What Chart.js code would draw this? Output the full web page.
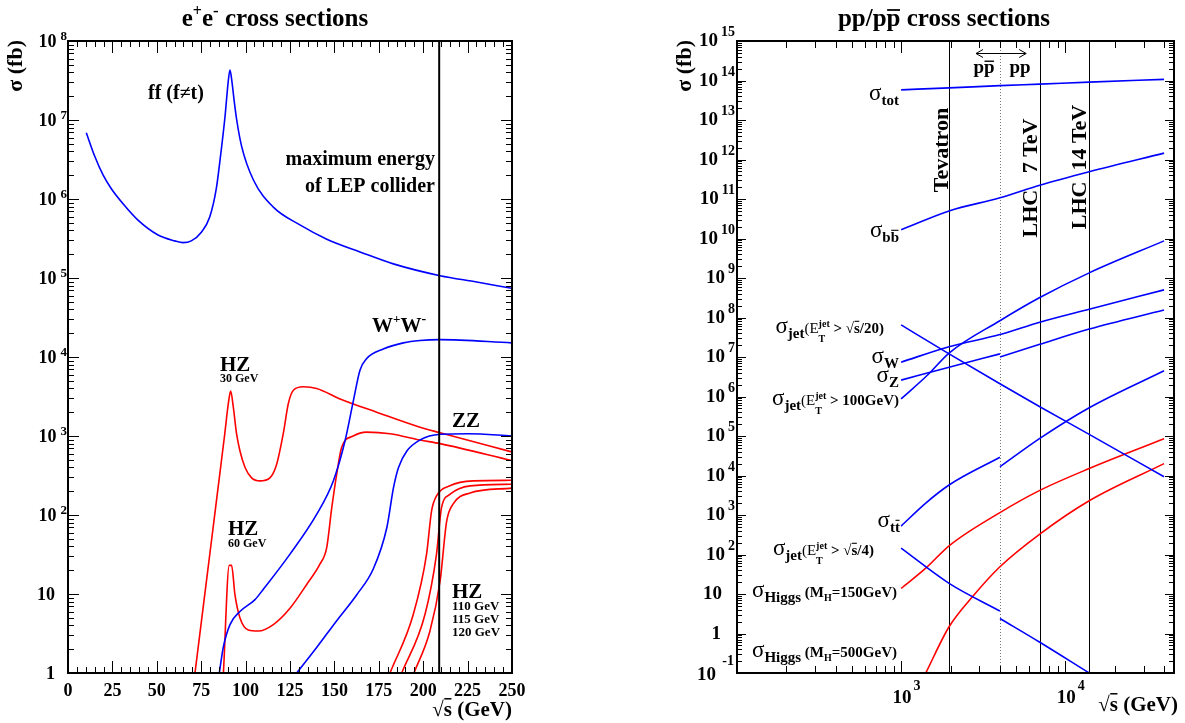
<!DOCTYPE html>
<html><head><meta charset="utf-8">
<script src="https://cdn.jsdelivr.net/npm/chart.js@4/dist/chart.umd.min.js"></script>
<style>
html,body{margin:0;padding:0;background:#fff;}
#wrap{position:relative;width:1185px;height:723px;}
canvas{position:absolute;left:0;top:0;}
</style></head><body>
<div id="wrap"><canvas id="c1" width="1185" height="723"></canvas><canvas id="c2" width="1185" height="723"></canvas></div>
<script>
// ================= DATA =================
// ---- left panel: e+e- cross sections (sqrt(s) in GeV, sigma in fb) ----
const eeXTicks = [0, 25, 50, 75, 100, 125, 150, 175, 200, 225, 250];
const eeYExps = [0, 1, 2, 3, 4, 5, 6, 7, 8];
const lepMaxEnergy = 209;

const ffX = [10.3, 15.0, 19.8, 24.4, 31.0, 39.4, 50.7, 60.1, 64.8, 69.4, 75.1, 79.8, 83.5, 85.6, 88.4, 90.3, 91.2, 92.2, 93.5, 95.0, 97.8, 104.4, 115.6, 130.6, 145.7, 164.4, 183.2, 209.5, 230.1, 249.8];
const ffY = [6.9e6, 3.5e6, 2.0e6, 1.35e6, 8.7e5, 5.4e5, 3.5e5, 2.95e5, 2.8e5, 2.95e5, 3.8e5, 5.9e5, 1.35e6, 3.1e6, 1.1e7, 3.2e7, 4.3e7, 3.2e7, 1.8e7, 1.0e7, 4.6e6, 1.74e6, 7.9e5, 4.7e5, 3.1e5, 2.14e5, 1.51e5, 1.07e5, 8.9e4, 7.4e4];

const wwX = [85.2, 87.4, 91.2, 96.8, 105.3, 110, 125, 140, 149.4, 156, 160.7, 164.4, 168.1, 177.5, 188.8, 198.2, 209.5, 249.8];
const wwY = [1, 2.1, 4.1, 6.0, 8.5, 11.5, 32, 102, 270, 870, 2800, 6800, 9500, 1.26e4, 1.51e4, 1.62e4, 1.66e4, 1.51e4];

const zzX = [128.8, 140, 151.3, 162.6, 172, 179.5, 183.3, 186.1, 190.8, 198.2, 209.5, 225.5, 249.8];
const zzY = [1, 2.1, 4.6, 9.8, 21, 69, 224, 400, 646, 890, 1050, 1070, 1000];

const hz30X = [71.5, 76, 80, 84, 88, 90.5, 91.6, 93.1, 94.9, 96.8, 99.7, 103.4, 108.1, 113.7, 117.5, 121.2, 124.1, 126.9, 132.5, 140, 153.2, 173.8, 198.2, 209.5, 249.8];
const hz30Y = [1, 6.5, 34, 180, 950, 2800, 3700, 2300, 1070, 650, 400, 295, 270, 295, 440, 1070, 2600, 3800, 4200, 4000, 2950, 2000, 1290, 1100, 630];

const hz60X = [87.5, 90.8, 92.1, 94, 96.8, 101.5, 107.2, 115.6, 125, 134.4, 141.9, 145.7, 148.5, 151.3, 154.1, 160.6, 168.1, 181.3, 198.2, 209.5, 249.8];
const hz60Y = [1, 23, 23, 9.8, 5.0, 3.5, 3.4, 4.1, 6.6, 13.2, 24, 39, 123, 330, 720, 1000, 1120, 1070, 890, 800, 490];

const hz110X = [181.3, 194.4, 201.9, 204.7, 207.5, 215, 228.2, 249.8];
const hz110Y = [1, 5.5, 32, 112, 174, 234, 270, 275];
const hz115X = [187.9, 201, 207.5, 210.3, 215, 226.4, 249.8];
const hz115Y = [1, 5.5, 32, 123, 182, 234, 245];
const hz120X = [194.8, 203.8, 209.5, 213.2, 216.9, 226.4, 249.8];
const hz120Y = [1, 3.4, 14.5, 83, 138, 190, 219];

// ---- right panel: pp / ppbar cross sections ----
const ppXTickExps = [3, 4];
const ppYExps = [-1, 0, 1, 2, 3, 4, 5, 6, 7, 8, 9, 10, 11, 12, 13, 14, 15];
const tevatronE = 1960, ppTransitionE = 4000, lhc7E = 7000, lhc14E = 14000;

const fullX = [1000, 1960, 4000, 7000, 14000, 40000];
const totY = [5.8e13, 6.5e13, 7.4e13, 8.1e13, 9.1e13, 1.07e14];
const bbY = [1.66e10, 5.0e10, 1.07e11, 2.24e11, 4.9e11, 1.45e12];
const jet20Y = [6.5e7, 1.2e7, 2.1e6, 5.5e5, 1.1e5, 9.3e3];
const jet100X = [1000, 1450, 1960, 4000, 7000, 14000, 40000];
const jet100Y = [8.7e5, 3.5e6, 1.26e7, 8.3e7, 3.2e8, 1.35e9, 8.7e9];
const wY = [7.4e6, 1.82e7, 3.7e7, 7.6e7, 1.62e8, 5.0e8];
const zLowX = [1000, 1960, 4000];
const zLowY = [2.6e6, 5.5e6, 1.2e7];
const zHighX = [4000, 7000, 14000, 40000];
const zHighY = [1.0e7, 2.1e7, 5.1e7, 1.55e8];
const ttLowX = [1000, 1413, 1960, 4000];
const ttLowY = [525, 2000, 5750, 2.9e4];
const ttHighX = [4000, 7000, 14000, 40000];
const ttHighY = [1.66e4, 8.7e4, 5.2e5, 4.5e6];
const jet4LowX = [1000, 1960, 4000];
const jet4LowY = [145, 18.6, 3.7];
const jet4HighX = [4000, 7000, 14000, 20000];
const jet4HighY = [2.4, 0.6, 0.1, 0.04];
const h150X = [1000, 1413, 1960, 4000, 7000, 14000, 40000];
const h150Y = [13.8, 45, 166, 1150, 4200, 1.5e4, 8.5e4];
const h500X = [1413, 1960, 2720, 4000, 7000, 14000, 40000];
const h500Y = [0.1, 1.48, 8.5, 49, 330, 2300, 2.0e4];

// ================= HELPERS =================
const FONT = "'Liberation Serif','Times New Roman',serif";
const BLUE = '#0000ff', RED = '#ff0000';
function pts(xs, ys) { return xs.map((x, i) => ({x: x, y: ys[i]})); }
function ds(xs, ys, color) {
  return {data: pts(xs, ys), borderColor: color, borderWidth: 1.6, pointRadius: 0, fill: false,
          cubicInterpolationMode: 'monotone', showLine: true};
}
function fontOf(r) { return (r.b ? 'bold ' : '') + r.f + 'px ' + FONT; }
function runW(ctx, r) {
  ctx.font = fontOf(r);
  if (r.stack) return Math.max(ctx.measureText(r.sup).width, ctx.measureText(r.sub).width);
  return ctx.measureText(r.t).width;
}
function drawRuns(ctx, runs, x, y, align) {
  const w = runs.reduce((s, r) => s + runW(ctx, r), 0);
  let cx = align === 'right' ? x - w : (align === 'center' ? x - w / 2 : x);
  ctx.textAlign = 'left'; ctx.textBaseline = 'alphabetic'; ctx.fillStyle = '#000';
  for (const r of runs) {
    const rw = runW(ctx, r);
    ctx.font = fontOf(r);
    if (r.stack) {
      ctx.fillText(r.sup, cx, y + r.supDy);
      ctx.fillText(r.sub, cx, y + r.subDy);
    } else {
      const yy = y + (r.dy || 0);
      ctx.fillText(r.t, cx, yy);
      if (r.over) {
        const oy = yy - r.f * (r.oh || 0.78);
        ctx.save(); ctx.strokeStyle = '#000'; ctx.lineWidth = Math.max(1, r.f / 14);
        ctx.beginPath(); ctx.moveTo(cx + 0.5, oy); ctx.lineTo(cx + rw - 0.5, oy); ctx.stroke(); ctx.restore();
      }
    }
    cx += rw;
  }
  return w;
}
function vText(ctx, text, font, xBase, yCenter) {
  ctx.save(); ctx.translate(xBase, yCenter); ctx.rotate(-Math.PI / 2);
  ctx.font = font; ctx.textAlign = 'center'; ctx.textBaseline = 'alphabetic'; ctx.fillStyle = '#000';
  ctx.fillText(text, 0, 0); ctx.restore();
}
function hline(ctx, x1, y1, x2, y2) { ctx.beginPath(); ctx.moveTo(x1, y1); ctx.lineTo(x2, y2); ctx.stroke(); }
function sig() { return {t: 'σ', f: 23}; }

// ================= LEFT CHART =================
const eePlugin = {
  id: 'eeDecor',
  afterDatasetsDraw(chart) {
    const {ctx, chartArea: a, scales: {x, y}} = chart;
    ctx.save();
    ctx.strokeStyle = '#000'; ctx.lineWidth = 1;
    for (let v = 0; v <= 250; v += 5) {
      const px = Math.round(x.getPixelForValue(v)) + 0.5;
      const len = (v % 25 === 0) ? 12 : 6;
      hline(ctx, px, a.bottom, px, a.bottom - len);
      hline(ctx, px, a.top, px, a.top + len);
    }
    for (let e = 0; e < 8; e++) {
      for (let m = 1; m <= 9; m++) {
        const py = Math.round(y.getPixelForValue(m * Math.pow(10, e))) + 0.5;
        const len = m === 1 ? 11 : 6;
        hline(ctx, a.left, py, a.left + len, py);
        hline(ctx, a.right, py, a.right - len, py);
      }
    }
    ctx.lineWidth = 2;
    const lx = x.getPixelForValue(lepMaxEnergy);
    hline(ctx, lx, a.top, lx, a.bottom);
    ctx.strokeRect(a.left, a.top, a.right - a.left, a.bottom - a.top);

    ctx.fillStyle = '#000';
    ctx.font = 'bold 18px ' + FONT; ctx.textAlign = 'center'; ctx.textBaseline = 'alphabetic';
    eeXTicks.forEach(v => ctx.fillText(String(v), x.getPixelForValue(v), 696));
    eeYExps.forEach(e => {
      const py = y.getPixelForValue(Math.pow(10, e));
      if (e === 0) { drawRuns(ctx, [{t: '1', f: 18, b: 1}], 55, py + 6, 'right'); }
      else if (e === 1) { drawRuns(ctx, [{t: '10', f: 18, b: 1}], 55, py + 6, 'right'); }
      else {
        const sw = drawRuns(ctx, [{t: String(e), f: 13, b: 1}], 67, py - 1, 'right');
        drawRuns(ctx, [{t: '10', f: 18, b: 1}], 67 - sw - 4, py + 6, 'right');
      }
    });
    drawRuns(ctx, [{t: '√', f: 21, b: 1}, {t: 's', f: 21, b: 1, over: 1, oh: 0.82}, {t: ' (GeV)', f: 21, b: 1}], 512, 716, 'right');
    ctx.save(); ctx.translate(22, 40); ctx.rotate(-Math.PI / 2);
    ctx.font = 'bold 22px ' + FONT; ctx.textAlign = 'right'; ctx.fillText('σ (fb)', 0, 0); ctx.restore();
    drawRuns(ctx, [{t: 'e', f: 25, b: 1}, {t: '+', f: 16, b: 1, dy: -10}, {t: 'e', f: 25, b: 1}, {t: '-', f: 17, b: 1, dy: -10},
                   {t: ' cross sections', f: 25, b: 1}], 275, 26, 'center');
    drawRuns(ctx, [{t: 'ff (f≠t)', f: 20, b: 1}], 148, 99, 'left');
    drawRuns(ctx, [{t: 'maximum energy', f: 20, b: 1}], 435, 165, 'right');
    drawRuns(ctx, [{t: 'of LEP collider', f: 20, b: 1}], 435, 192, 'right');
    drawRuns(ctx, [{t: 'W', f: 21, b: 1}, {t: '+', f: 13, b: 1, dy: -9}, {t: 'W', f: 21, b: 1}, {t: '-', f: 14, b: 1, dy: -9}], 372, 332, 'left');
    drawRuns(ctx, [{t: 'HZ', f: 21, b: 1}], 220, 371, 'left');
    drawRuns(ctx, [{t: '30 GeV', f: 12, b: 1}], 220, 382, 'left');
    drawRuns(ctx, [{t: 'ZZ', f: 21, b: 1}], 452, 427, 'left');
    drawRuns(ctx, [{t: 'HZ', f: 21, b: 1}], 228, 535, 'left');
    drawRuns(ctx, [{t: '60 GeV', f: 12, b: 1}], 228, 547, 'left');
    drawRuns(ctx, [{t: 'HZ', f: 21, b: 1}], 452, 598, 'left');
    drawRuns(ctx, [{t: '110 GeV', f: 13, b: 1}], 452, 610, 'left');
    drawRuns(ctx, [{t: '115 GeV', f: 13, b: 1}], 452, 623, 'left');
    drawRuns(ctx, [{t: '120 GeV', f: 13, b: 1}], 452, 636, 'left');
    ctx.restore();
  }
};

new Chart(document.getElementById('c1'), {
  type: 'line',
  data: {datasets: [
    ds(ffX, ffY, BLUE), ds(wwX, wwY, BLUE), ds(zzX, zzY, BLUE),
    ds(hz30X, hz30Y, RED), ds(hz60X, hz60Y, RED),
    ds(hz110X, hz110Y, RED), ds(hz115X, hz115Y, RED), ds(hz120X, hz120Y, RED)
  ]},
  options: {
    responsive: false, animation: false, events: [],
    layout: {padding: {left: 68, right: 1185 - 512, top: 41, bottom: 723 - 673}},
    plugins: {legend: {display: false}, tooltip: {enabled: false}},
    scales: {
      x: {type: 'linear', min: 0, max: 250, display: false},
      y: {type: 'logarithmic', min: 1, max: 1e8, display: false}
    }
  },
  plugins: [eePlugin]
});

// ================= RIGHT CHART =================
const ppPlugin = {
  id: 'ppDecor',
  beforeDatasetsDraw(chart) {
    const {ctx, chartArea: a, scales: {x}} = chart;
    ctx.save();
    ctx.strokeStyle = '#000'; ctx.lineWidth = 1;
    [tevatronE, lhc7E, lhc14E].forEach(v => {
      const px = Math.round(x.getPixelForValue(v)) + 0.5;
      hline(ctx, px, a.top, px, a.bottom);
    });
    ctx.strokeStyle = '#777'; ctx.setLineDash([1, 2]);
    const dx = Math.round(x.getPixelForValue(ppTransitionE)) + 0.5;
    hline(ctx, dx, a.top, dx, a.bottom);
    ctx.restore();
  },
  afterDatasetsDraw(chart) {
    const {ctx, chartArea: a, scales: {x, y}} = chart;
    ctx.save();
    ctx.strokeStyle = '#000'; ctx.lineWidth = 1;
    for (let e = 2; e <= 4; e++) {
      for (let m = 1; m <= 9; m++) {
        const v = m * Math.pow(10, e);
        if (v < 100 || v > 46000) continue;
        const px = Math.round(x.getPixelForValue(v)) + 0.5;
        const len = m === 1 ? 12 : 7;
        hline(ctx, px, a.bottom, px, a.bottom - len);
        hline(ctx, px, a.top, px, a.top + len);
      }
    }
    for (let e = -1; e < 15; e++) {
      for (let m = 1; m <= 9; m++) {
        const py = Math.round(y.getPixelForValue(m * Math.pow(10, e))) + 0.5;
        const len = m === 1 ? 9 : 5;
        hline(ctx, a.left, py, a.left + len, py);
        hline(ctx, a.right, py, a.right - len, py);
      }
    }
    ctx.lineWidth = 2;
    ctx.strokeRect(a.left, a.top, a.right - a.left, a.bottom - a.top);

    ppYExps.forEach(e => {
      const py = y.getPixelForValue(Math.pow(10, e));
      if (e === 0) { drawRuns(ctx, [{t: '1', f: 19, b: 1}], 721, py + 5, 'right'); }
      else if (e === 1) { drawRuns(ctx, [{t: '10', f: 19, b: 1}], 722, py + 5, 'right'); }
      else if (e === -1) {
        drawRuns(ctx, [{t: '-1', f: 14, b: 1}], 734, py - 8, 'right');
        drawRuns(ctx, [{t: '10', f: 19, b: 1}], 716, py + 7, 'right');
      } else {
        const sw = drawRuns(ctx, [{t: String(e), f: 14, b: 1}], 735, py - 5, 'right');
        drawRuns(ctx, [{t: '10', f: 19, b: 1}], 735 - sw - 3, py + 5, 'right');
      }
    });
    ppXTickExps.forEach(e => {
      const px = x.getPixelForValue(Math.pow(10, e));
      const w = drawRuns(ctx, [{t: '10', f: 19, b: 1}], px + 1, 703, 'center');
      drawRuns(ctx, [{t: String(e), f: 14, b: 1}], px + 1 + w / 2 + 2, 690, 'left');
    });
    drawRuns(ctx, [{t: '√', f: 21, b: 1}, {t: 's', f: 21, b: 1, over: 1, oh: 0.82}, {t: ' (GeV)', f: 21, b: 1}], 1178, 711, 'right');
    ctx.save(); ctx.translate(691, 40); ctx.rotate(-Math.PI / 2);
    ctx.font = 'bold 22px ' + FONT; ctx.textAlign = 'right'; ctx.fillText('σ (fb)', 0, 0); ctx.restore();
    drawRuns(ctx, [{t: 'pp/p', f: 25, b: 1}, {t: 'p', f: 25, b: 1, over: 1, oh: 0.64}, {t: ' cross sections', f: 25, b: 1}], 944, 26, 'center');

    vText(ctx, 'Tevatron', 'bold 22px ' + FONT, 948, 150);
    vText(ctx, 'LHC   7 TeV', 'bold 22px ' + FONT, 1037, 178);
    vText(ctx, 'LHC  14 TeV', 'bold 22px ' + FONT, 1086, 167);
    const ax1 = x.getPixelForValue(2860), ax2 = x.getPixelForValue(5780), ay = 53.5;
    ctx.lineWidth = 1; ctx.strokeStyle = '#000';
    hline(ctx, ax1, ay, ax2, ay);
    hline(ctx, ax1, ay, ax1 + 7, ay - 4); hline(ctx, ax1, ay, ax1 + 7, ay + 4);
    hline(ctx, ax2, ay, ax2 - 7, ay - 4); hline(ctx, ax2, ay, ax2 - 7, ay + 4);
    drawRuns(ctx, [{t: 'p', f: 19, b: 1}, {t: 'p', f: 19, b: 1, over: 1, oh: 0.62}], 984, 73, 'center');
    drawRuns(ctx, [{t: 'pp', f: 19, b: 1}], 1020, 73, 'center');

    const S = 15;
    drawRuns(ctx, [sig(), {t: 'tot', f: S, b: 1, dy: 5}], 899, 100, 'right');
    drawRuns(ctx, [sig(), {t: 'b', f: S, b: 1, dy: 5}, {t: 'b', f: S, b: 1, dy: 5, over: 1}], 899, 237, 'right');
    drawRuns(ctx, [sig(), {t: 'jet', f: S, b: 1, dy: 5}, {t: '(E', f: S},
                   {stack: 1, sup: 'jet', sub: 'T', f: 10, b: 1, supDy: -6, subDy: 9},
                   {t: ' > √', f: S, b: 1}, {t: 's', f: S, b: 1, over: 1, oh: 0.78}, {t: '/20)', f: S, b: 1}], 884, 333, 'right');
    drawRuns(ctx, [sig(), {t: 'W', f: S, b: 1, dy: 5}], 899, 363, 'right');
    drawRuns(ctx, [sig(), {t: 'Z', f: S, b: 1, dy: 5}], 899, 382, 'right');
    drawRuns(ctx, [sig(), {t: 'jet', f: S, b: 1, dy: 5}, {t: '(E', f: S},
                   {stack: 1, sup: 'jet', sub: 'T', f: 10, b: 1, supDy: -6, subDy: 9},
                   {t: ' > 100GeV)', f: S, b: 1}], 899, 405, 'right');
    drawRuns(ctx, [sig(), {t: 't', f: S, b: 1, dy: 5}, {t: 't', f: S, b: 1, dy: 5, over: 1}], 900, 527, 'right');
    drawRuns(ctx, [sig(), {t: 'jet', f: S, b: 1, dy: 5}, {t: '(E', f: S},
                   {stack: 1, sup: 'jet', sub: 'T', f: 10, b: 1, supDy: -6, subDy: 9},
                   {t: ' > √', f: S, b: 1}, {t: 's', f: S, b: 1, over: 1, oh: 0.78}, {t: '/4)', f: S, b: 1}], 874, 555, 'right');
    drawRuns(ctx, [sig(), {t: 'Higgs', f: S, b: 1, dy: 5}, {t: ' (M', f: S, b: 1}, {t: 'H', f: 10, b: 1, dy: 4},
                   {t: '=150GeV)', f: S, b: 1}], 897, 597, 'right');
    drawRuns(ctx, [sig(), {t: 'Higgs', f: S, b: 1, dy: 5}, {t: ' (M', f: S, b: 1}, {t: 'H', f: 10, b: 1, dy: 4},
                   {t: '=500GeV)', f: S, b: 1}], 897, 657, 'right');
    ctx.restore();
  }
};

new Chart(document.getElementById('c2'), {
  type: 'line',
  data: {datasets: [
    ds(fullX, totY, BLUE), ds(fullX, bbY, BLUE), ds(fullX, jet20Y, BLUE), ds(jet100X, jet100Y, BLUE),
    ds(fullX, wY, BLUE), ds(zLowX, zLowY, BLUE), ds(zHighX, zHighY, BLUE),
    ds(ttLowX, ttLowY, BLUE), ds(ttHighX, ttHighY, BLUE),
    ds(jet4LowX, jet4LowY, BLUE), ds(jet4HighX, jet4HighY, BLUE),
    ds(h150X, h150Y, RED), ds(h500X, h500Y, RED)
  ]},
  options: {
    responsive: false, animation: false, events: [],
    layout: {padding: {left: 737, right: 1185 - 1174, top: 41, bottom: 723 - 673}},
    plugins: {legend: {display: false}, tooltip: {enabled: false}},
    scales: {
      x: {type: 'logarithmic', min: 100, max: 46000, display: false},
      y: {type: 'logarithmic', min: 0.1, max: 1e15, display: false}
    }
  },
  plugins: [ppPlugin]
});
</script></body></html>
